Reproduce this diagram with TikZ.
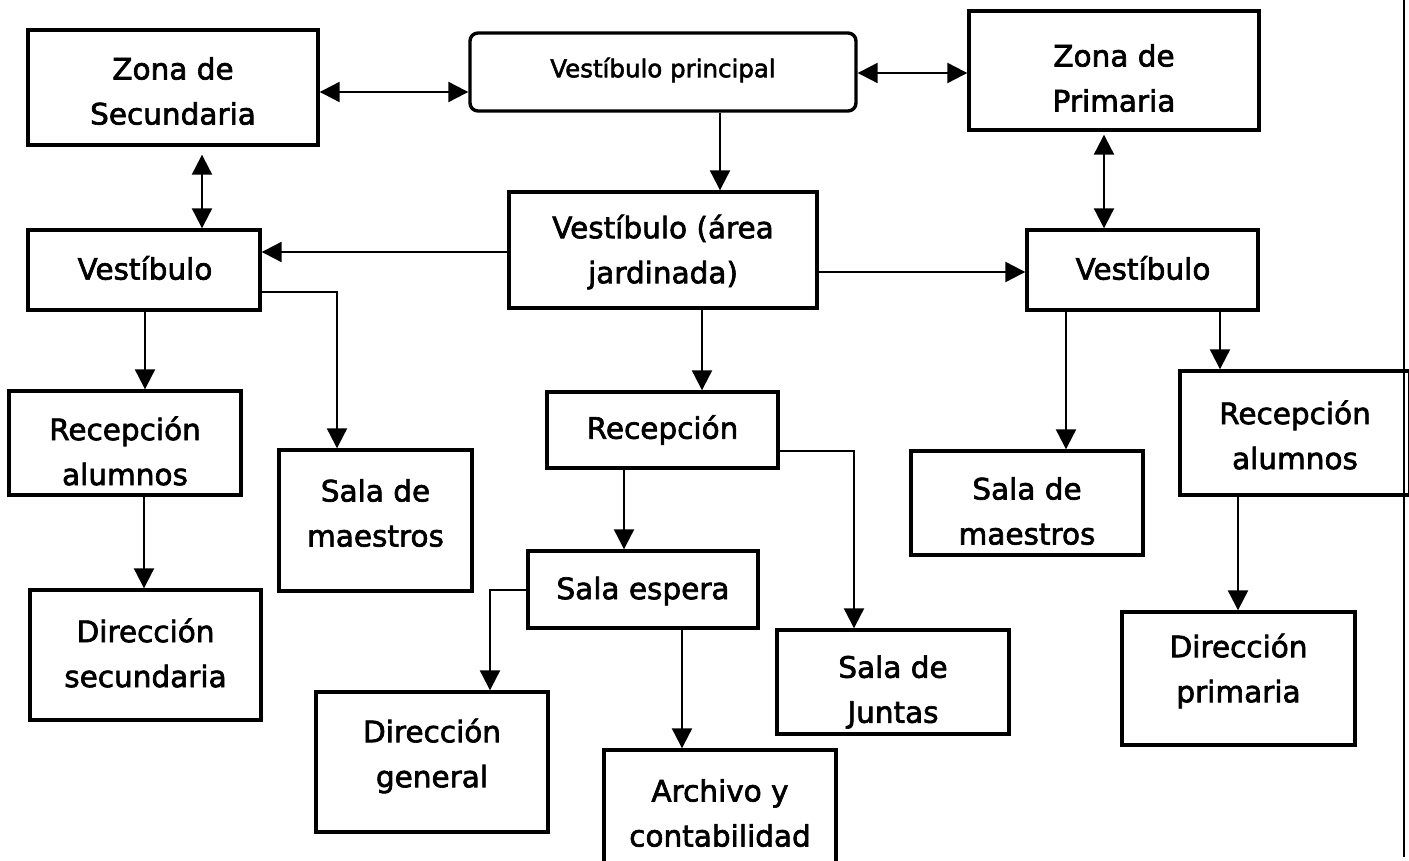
\documentclass[tikz,border=0pt]{standalone}
\usepackage{fontspec}
\setmainfont{DejaVu Sans}[FakeBold=2.2]
\usetikzlibrary{arrows.meta}
\begin{document}
\begin{tikzpicture}[x=1pt,y=-1pt,
  box/.style={draw, line width=3.4pt, inner sep=0pt},
  lbl/.style={align=center, inner sep=0pt, font=\fontsize{29.5}{45}\selectfont},
  arr/.style={line width=2.2pt, -{Triangle[length=20pt,width=20pt]}},
  darr/.style={line width=2.2pt, {Triangle[length=20pt,width=20pt]}-{Triangle[length=20pt,width=20pt]}},
]
\useasboundingbox (0,0) rectangle (1409,861);
\clip (0,0) rectangle (1409,861);
\fill[white] (0,0) rectangle (1409,861);

% boxes
\node[box, minimum width=290pt, minimum height=115pt] (zs) at (173,87.5) {};
\node[box, rounded corners=8pt, minimum width=386pt, minimum height=78pt] (vp) at (663,72) {};
\node[box, minimum width=290pt, minimum height=119pt] (zp) at (1114,70.5) {};
\node[box, minimum width=232pt, minimum height=80pt] (vl) at (144,270) {};
\node[box, minimum width=308pt, minimum height=116pt] (vj) at (663,250) {};
\node[box, minimum width=231pt, minimum height=80pt] (vr) at (1142.5,270) {};
\node[box, minimum width=232pt, minimum height=104pt] (ral) at (125,443) {};
\node[box, minimum width=193pt, minimum height=141pt] (sml) at (375.5,520.5) {};
\node[box, minimum width=231pt, minimum height=130pt] (dsec) at (145.5,655) {};
\node[box, minimum width=231pt, minimum height=76pt] (rec) at (662.5,430) {};
\node[box, minimum width=230pt, minimum height=77pt] (se) at (643,589.5) {};
\node[box, minimum width=232pt, minimum height=104pt] (sj) at (893,682) {};
\node[box, minimum width=232pt, minimum height=140pt] (dg) at (432,762) {};
\node[box, minimum width=232pt, minimum height=140pt] (arch) at (720,820) {};
\node[box, minimum width=232pt, minimum height=104pt] (smr) at (1027,503) {};
\node[box, minimum width=230pt, minimum height=124pt] (rar) at (1295,433) {};
\node[box, minimum width=233pt, minimum height=133pt] (dp) at (1238.5,678.5) {};

% texts
\node[lbl] (zs-t) at (173,91) {Zona de\\Secundaria};
\node[lbl, font=\fontsize{24.5}{30}\selectfont] (vp-t) at (663,70) {Vestíbulo principal};
\node[lbl] (zp-t) at (1114,78) {Zona de\\Primaria};
\node[lbl] (vl-t) at (145,268) {Vestíbulo};
\node[lbl] (vj-t) at (663,252) {Vestíbulo (área\\jardinada)};
\node[lbl] (vr-t) at (1143,268) {Vestíbulo};
\node[lbl] (ral-t) at (125,451) {Recepción\\alumnos};
\node[lbl] (sml-t) at (375.5,513) {Sala de\\maestros};
\node[lbl] (dsec-t) at (145.5,653) {Dirección\\secundaria};
\node[lbl] (rec-t) at (662.5,430) {Recepción};
\node[lbl] (se-t) at (643,591) {Sala espera};
\node[lbl] (sj-t) at (893,692) {Sala de\\Juntas};
\node[lbl] (dg-t) at (432,756) {Dirección\\general};
\node[lbl] (arch-t) at (720,813) {Archivo y\\contabilidad};
\node[lbl] (smr-t) at (1027,511) {Sala de\\maestros};
\node[lbl] (rar-t) at (1295,435) {Recepción\\alumnos};
\node[lbl] (dp-t) at (1238.5,671) {Dirección\\primaria};

% connectors
\draw[darr] (zs.east |- 0,92) -- (vp.west |- 0,92);
\draw[darr] (vp.east |- 0,73) -- (zp.west |- 0,73);
\draw[darr, shorten <=8pt] (zs.south -| 202,0) -- (vl.north -| 202,0);
\draw[arr] (vp.south -| 720,0) -- (vj.north -| 720,0);
\draw[darr, shorten <=3pt] (zp.south -| 1104,0) -- (vr.north -| 1104,0);
\draw[arr] (vj.west |- 0,252) -- (vl.east |- 0,252);
\draw[arr] (vj.east |- 0,272) -- (vr.west |- 0,272);
\draw[arr] (vl.south -| 145,0) -- (ral.north -| 145,0);
\draw[arr] (vl.east |- 0,292) -| (sml.north -| 337,0);
\draw[arr] (ral.south -| 144,0) -- (dsec.north -| 144,0);
\draw[arr] (vj.south -| 702,0) -- (rec.north -| 702,0);
\draw[arr] (rec.south -| 624,0) -- (se.north -| 624,0);
\draw[arr] (rec.east |- 0,451) -| (sj.north -| 854,0);
\draw[arr] (se.west |- 0,590) -| (dg.north -| 490,0);
\draw[arr] (se.south -| 682,0) -- (arch.north -| 682,0);
\draw[arr] (vr.south -| 1066,0) -- (smr.north -| 1066,0);
\draw[arr] (vr.south -| 1220,0) -- (rar.north -| 1220,0);
\draw[arr] (rar.south -| 1238,0) -- (dp.north -| 1238,0);

% right border line
\coordinate (rt) at (1404,0);
\coordinate (rb) at (1404,857);
\draw[line width=2pt] (rt) -- (rb);
\end{tikzpicture}
\end{document}
